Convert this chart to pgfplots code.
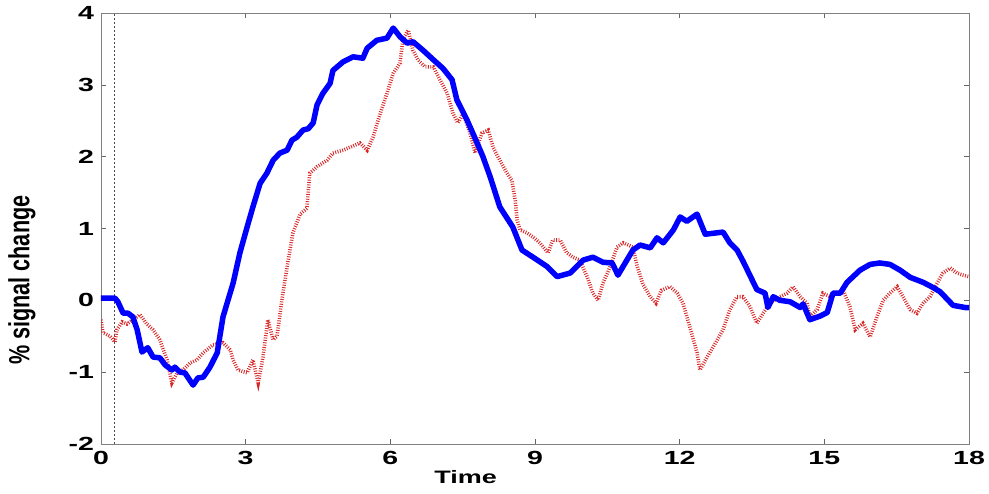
\documentclass[border=0pt]{standalone}
\usepackage{pgfplots}
\pgfplotsset{compat=1.18}
\usepackage{fontspec}
\setmainfont{Liberation Sans}
\newfontfamily\widefont[FakeStretch=1.5]{Liberation Sans}
\definecolor{sigred}{rgb}{0.85,0.15,0.15}

\begin{document}
\begin{tikzpicture}
\begin{axis}[
    scale only axis,
    width=434pt, height=215.5pt,
    xmin=0, xmax=18, ymin=-2, ymax=4,
    xtick={0,3,...,18}, ytick={-2,-1,...,4},
    tick align=inside,
    major tick length=2.5pt,
    axis line style={black!50},
    tick style={black!60},
    ticklabel style={font=\widefont\bfseries\fontsize{9.5}{10}\selectfont},
    /pgf/number format/assume math mode=true,
    xlabel={Time},
    xlabel style={font=\widefont\bfseries\fontsize{9}{10}\selectfont,
        at={(axis description cs:0.42,-0.0766)}, anchor=center},
    ylabel={\scalebox{1}[1.35]{\bfseries\fontsize{10.8}{12}\selectfont \% signal change}},
    ylabel style={at={(axis description cs:-0.091,0.38)}, anchor=center},
]
% stimulus onset marker
\addplot[black!70, line width=0.5pt, dash pattern=on 1pt off 1pt] coordinates {(0.29,-2) (0.29,4)};

% red dotted response
\addplot[sigred, line width=1.8pt, dash pattern=on 0.45pt off 0.75pt] coordinates {
(0,-0.27) (0.04,-0.45) (0.19,-0.5) (0.29,-0.58) (0.33,-0.41) (0.44,-0.3)
(0.54,-0.33) (0.66,-0.27) (0.81,-0.2) (0.95,-0.33) (1.08,-0.41) (1.22,-0.55)
(1.37,-0.83) (1.47,-1.15) (1.58,-1.01) (1.70,-0.97) (1.85,-0.87) (1.99,-0.83)
(2.12,-0.73) (2.32,-0.62) (2.53,-0.59) (2.68,-0.69) (2.74,-0.83) (2.84,-0.97)
(3.03,-1.01) (3.15,-0.83) (3.26,-1.15) (3.36,-0.79) (3.46,-0.27) (3.57,-0.55)
(3.65,-0.5) (3.75,0.0) (3.86,0.47) (3.98,0.94) (4.13,1.2) (4.27,1.28)
(4.33,1.77) (4.48,1.86) (4.69,1.95) (4.81,2.05) (5.02,2.09) (5.16,2.13)
(5.37,2.19) (5.52,2.09) (5.64,2.27) (5.79,2.6) (5.93,2.88) (6.06,3.16)
(6.20,3.3) (6.26,3.62) (6.37,3.76) (6.47,3.48) (6.57,3.35) (6.72,3.25)
(6.89,3.25) (7.03,3.07) (7.18,2.88) (7.30,2.6) (7.40,2.47) (7.51,2.6)
(7.65,2.33) (7.76,2.05) (7.90,2.33) (8.03,2.37) (8.13,2.13) (8.27,1.95)
(8.42,1.77) (8.52,1.67) (8.59,1.39) (8.63,1.12) (8.69,0.98) (8.83,0.94)
(8.96,0.88) (9.10,0.8) (9.27,0.66) (9.37,0.84) (9.52,0.84) (9.66,0.66)
(9.79,0.6) (9.93,0.56) (10.08,0.33) (10.20,0.1) (10.31,0.0) (10.41,0.24)
(10.56,0.47) (10.70,0.74) (10.83,0.8) (11.03,0.74) (11.12,0.47) (11.24,0.22)
(11.39,0.05) (11.51,-0.04) (11.62,0.14) (11.80,0.19) (11.95,0.1) (12.07,-0.04)
(12.21,-0.37) (12.36,-0.73) (12.42,-0.97) (12.57,-0.79) (12.78,-0.55) (12.90,-0.41)
(13.04,-0.13) (13.19,0.05) (13.31,0.05) (13.46,-0.09) (13.60,-0.32) (13.73,-0.18)
(13.87,-0.04) (14.08,0.05) (14.23,0.1) (14.35,0.19) (14.50,0.05) (14.64,-0.04)
(14.70,-0.23) (14.85,-0.13) (14.97,0.1) (15.12,0.05) (15.26,0.1) (15.39,0.14)
(15.53,-0.09) (15.64,-0.41) (15.80,-0.32) (15.95,-0.51) (16.09,-0.23) (16.22,0.0)
(16.36,0.1) (16.51,0.19) (16.63,0.05) (16.78,-0.13) (16.92,-0.18) (17.05,-0.04)
(17.19,0.05) (17.34,0.24) (17.46,0.38) (17.61,0.45) (17.75,0.38) (17.88,0.35)
(18,0.33)
};

% blue solid response
\addplot[blue, line width=2.75pt, line join=round] coordinates {
(0,0.03) (0.29,0.03) (0.35,-0.02) (0.46,-0.18) (0.56,-0.18) (0.66,-0.23)
(0.75,-0.41) (0.85,-0.72) (0.97,-0.66) (1.08,-0.79) (1.22,-0.8) (1.33,-0.9)
(1.47,-0.97) (1.53,-0.93) (1.64,-1.0) (1.74,-1.01) (1.91,-1.18) (2.01,-1.08)
(2.12,-1.07) (2.26,-0.93) (2.41,-0.73) (2.53,-0.23) (2.74,0.24) (2.88,0.66)
(3.03,1.02) (3.15,1.3) (3.30,1.63) (3.44,1.77) (3.57,1.95) (3.71,2.05)
(3.86,2.09) (3.96,2.23) (4.06,2.27) (4.19,2.37) (4.30,2.39) (4.40,2.47)
(4.48,2.72) (4.60,2.88) (4.75,3.02) (4.81,3.2) (5.02,3.32) (5.23,3.39)
(5.43,3.37) (5.52,3.51) (5.72,3.62) (5.93,3.65) (6.06,3.79) (6.20,3.67)
(6.35,3.58) (6.47,3.6) (6.68,3.48) (6.89,3.35) (7.09,3.23) (7.28,3.07)
(7.38,2.79) (7.59,2.51) (7.80,2.19) (7.92,2.0) (8.07,1.72) (8.27,1.3)
(8.54,1.02) (8.73,0.7) (8.96,0.6) (9.25,0.47) (9.46,0.33) (9.73,0.38)
(10.0,0.56) (10.20,0.6) (10.41,0.53) (10.60,0.52) (10.72,0.35) (10.87,0.52)
(11.03,0.7) (11.18,0.77) (11.39,0.73) (11.53,0.87) (11.66,0.8) (11.87,0.98)
(12.01,1.16) (12.15,1.1) (12.36,1.2) (12.53,0.92) (12.90,0.95) (13.04,0.8)
(13.19,0.7) (13.31,0.55) (13.60,0.15) (13.77,0.1) (13.83,-0.1) (13.94,0.05)
(14.08,0.0) (14.29,-0.02) (14.50,-0.1) (14.56,-0.05) (14.70,-0.27) (14.91,-0.22)
(15.06,-0.17) (15.18,0.1) (15.33,0.1) (15.47,0.25) (15.74,0.42) (15.95,0.5)
(16.15,0.52) (16.36,0.5) (16.57,0.42) (16.78,0.32) (17.05,0.25) (17.25,0.18)
(17.40,0.12) (17.67,-0.07) (17.92,-0.1) (18,-0.1)
};
\coordinate (sw) at (rel axis cs:0,0);
\coordinate (ne) at (rel axis cs:1,1);
\end{axis}
\pgfresetboundingbox
\path ([shift={(-50.5pt,-25pt)}]sw) rectangle ([shift={(10pt,6.5pt)}]ne);
\end{tikzpicture}
\end{document}
